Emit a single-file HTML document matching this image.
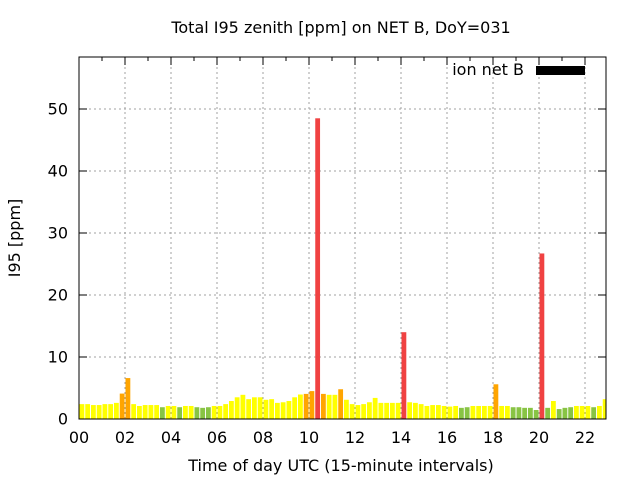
<!DOCTYPE html>
<html><head><meta charset="utf-8"><style>
body{margin:0;background:#fff}
svg{display:block;font-family:"DejaVu Sans","Liberation Sans",sans-serif}
</style></head><body>
<svg id="chart" width="640" height="480">
<text x="341" y="33" text-anchor="middle" font-size="16">Total I95 zenith [ppm] on NET B, DoY=031</text>
<text x="341" y="471" text-anchor="middle" font-size="16">Time of day UTC (15-minute intervals)</text>
<text x="0" y="0" transform="translate(20,238) rotate(-90)" text-anchor="middle" font-size="16">I95 [ppm]</text>
<g id="grid"></g><g id="bars"></g><g id="axes"></g>
<text x="524" y="75" text-anchor="end" font-size="16">ion net B</text>
<rect x="536" y="66" width="49" height="9" fill="#000"/>
</svg>
<script>
const values=[2.4,2.4,2.25,2.25,2.4,2.4,2.6,4.1,6.6,2.4,2.1,2.25,2.25,2.25,1.9,2.1,2.1,1.9,2.1,2.1,1.9,1.8,1.9,2.1,2.1,2.4,2.9,3.5,3.9,3.2,3.5,3.5,3.1,3.2,2.6,2.7,2.9,3.5,3.95,4.05,4.5,48.5,4.05,3.9,3.9,4.8,3.1,2.4,2.25,2.4,2.7,3.4,2.6,2.6,2.6,2.6,14.0,2.7,2.6,2.4,2.1,2.25,2.25,2.1,2.0,2.1,1.8,1.9,2.1,2.1,2.1,2.1,5.6,2.1,2.1,1.9,1.9,1.8,1.8,1.45,26.7,1.8,2.9,1.6,1.8,1.9,2.1,2.1,2.1,1.9,2.1,3.2];
const xTickLabels=["00","02","04","06","08","10","12","14","16","18","20","22"];
const yTickLabels=[0,10,20,30,40,50];
const L=79,R=606,T=57,B=419,HPX=23,YMAX=(B-T)/6.2;
const NS="http://www.w3.org/2000/svg";
const xS=h=>L+h*HPX, yS=v=>B-v/YMAX*(B-T);
function mk(tag,at,p){const e=document.createElementNS(NS,tag);for(const k in at)e.setAttribute(k,at[k]);p.appendChild(e);return e;}
const grid=document.getElementById('grid'),bars=document.getElementById('bars'),axes=document.getElementById('axes');
function col(v){return v>10?'#f04242':v>=4?'#ffa500':v>=2?'#ffff00':'#88c444';}
xTickLabels.forEach((t,i)=>{const x=xS(i*2);
 if(i>0){const g=mk('line',{x1:x,x2:x,y1:T,y2:B,stroke:'#a0a0a0','stroke-dasharray':'2,3'},grid);
 
 }
 const tx=mk('text',{x:x,y:443,'text-anchor':'middle','font-size':16},axes);tx.textContent=t;
 
 });
yTickLabels.forEach(v=>{const y=yS(v);
 if(v>0){const g=mk('line',{x1:L,x2:R,y1:y,y2:y,stroke:'#a0a0a0','stroke-dasharray':'2,3'},grid);
 
 }
 mk('line',{x1:L,x2:L+8,y1:y,y2:y,stroke:'#000'},grid);mk('line',{x1:R,x2:R-8,y1:y,y2:y,stroke:'#000'},grid);
 const tx=mk('text',{x:68,y:y+5.5,'text-anchor':'end','font-size':16},axes);tx.textContent=v;
 
 });
for(let h=1;h<=22;h++){const x=xS(h);mk('line',{x1:x,x2:x,y1:T,y2:T+(h%2?4:8),stroke:'#000'},grid);}
values.forEach((v,i)=>{const x=xS(i/4)+0.5;const w=Math.min(4.8,R-x);const y=Math.max(yS(v),T);
 const r=mk('rect',{x:x,y:y,width:Math.max(w,0),height:B-y,fill:col(v)},bars);
 
 });
const fr=mk('rect',{x:L,y:T,width:R-L,height:B-T,fill:'none',stroke:'#000'},axes);


</script>
</body></html>
